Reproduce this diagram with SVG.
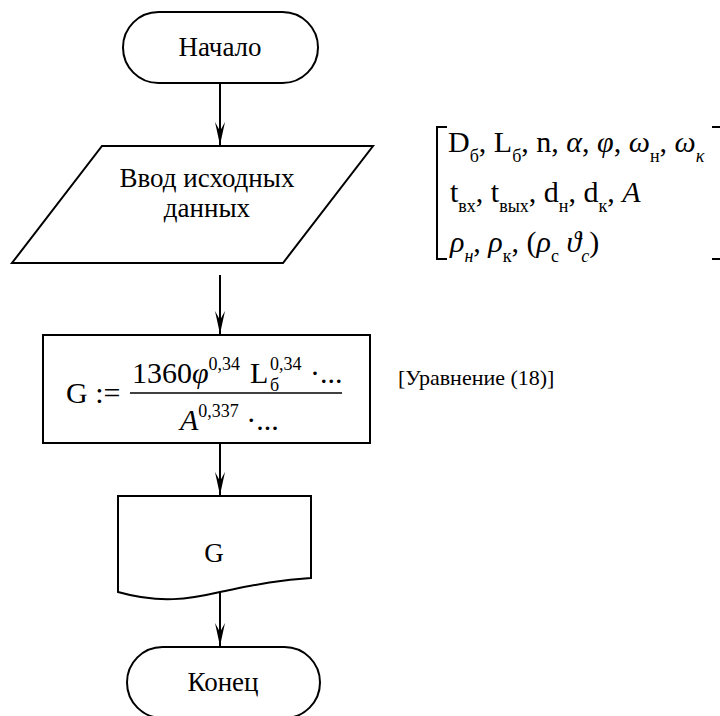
<svg xmlns="http://www.w3.org/2000/svg" width="720" height="716" viewBox="0 0 720 716">
<style>
  .shape { fill: #ffffff; stroke: #000000; stroke-width: 2; }
  .conn { stroke: #000000; stroke-width: 2; fill: none; }
  .s { font-size: 18px; }
  .i { font-style: italic; }
</style>
<defs>
  <marker id="arrow" markerUnits="userSpaceOnUse" markerWidth="24" markerHeight="12" viewBox="-23 -6 24 12" refX="0" refY="0" orient="auto">
    <path d="M0,0 L-23,-5 L-14,0 L-23,5 Z" fill="#000000"/>
  </marker>
</defs>
<rect width="720" height="716" fill="#ffffff"/>

<g id="start">
  <rect class="shape" x="123" y="12" width="195" height="71" rx="35.5" ry="35.5"/>
  <text font-family="Liberation Serif" font-size="27" x="220" y="56" text-anchor="middle">Начало</text>
</g>

<g id="input">
  <polygon class="shape" points="102,146 373,146 283,263 12,263"/>
  <text font-family="Liberation Serif" font-size="27" x="207" y="187" text-anchor="middle">Ввод исходных</text>
  <text font-family="Liberation Serif" font-size="27" x="207" y="217" text-anchor="middle">данных</text>
</g>

<g id="input-data" font-family="Liberation Serif" font-size="30">
  <path class="conn" d="M447,127 H437 V259 H447"/>
  <path class="conn" d="M712,127 H722 M712,259 H722"/>
  <text x="448" y="152">D<tspan class="s" dy="10">б</tspan><tspan dy="-10">, L</tspan><tspan class="s" dy="10">б</tspan><tspan dy="-10">, n, </tspan><tspan class="i">α</tspan>, <tspan class="i">φ</tspan>, <tspan class="i">ω</tspan><tspan class="s" dy="10">н</tspan><tspan dy="-10">, </tspan><tspan class="i">ω</tspan><tspan class="s i" dy="10">κ</tspan></text>
  <text x="450" y="202">t<tspan class="s" dy="10">вх</tspan><tspan dy="-10">, t</tspan><tspan class="s" dy="10">вых</tspan><tspan dy="-10">, d</tspan><tspan class="s" dy="10">н</tspan><tspan dy="-10">, d</tspan><tspan class="s" dy="10">к</tspan><tspan dy="-10">, </tspan><tspan class="i">A</tspan></text>
  <text x="450" y="252"><tspan class="i">ρ</tspan><tspan class="s i" dy="10">н</tspan><tspan dy="-10">, </tspan><tspan class="i">ρ</tspan><tspan class="s" dy="10">к</tspan><tspan dy="-10">, (</tspan><tspan class="i">ρ</tspan><tspan class="s" dy="10">с</tspan><tspan dy="-10"> </tspan><tspan class="i">ϑ</tspan><tspan class="s i" dy="10">c</tspan><tspan dy="-10">)</tspan></text>
</g>

<g id="calc" font-family="Liberation Serif" font-size="30">
  <rect class="shape" x="43" y="335" width="327" height="108"/>
  <text x="66" y="403">G :=</text>
  <line x1="130" y1="393" x2="342" y2="393" stroke="#000" stroke-width="1.5"/>
  <text x="132" y="383">1360<tspan class="i">φ</tspan><tspan class="s" dy="-13">0,34</tspan></text>
  <text x="250" y="383">L</text>
  <text class="s" x="270" y="391">б</text>
  <text class="s" x="270" y="370">0,34</text>
  <text x="310" y="383">·...</text>
  <text x="180" y="430"><tspan class="i">A</tspan><tspan class="s" dy="-13">0,337</tspan><tspan dy="13"> ·...</tspan></text>
</g>

<g id="eq-label">
  <text font-family="Liberation Serif" font-size="22" x="398" y="385">[Уравнение (18)]</text>
</g>

<g id="output">
  <path class="shape" d="M118,496 H311 V578 C275,580 250,586 220,592 C190,599 160,604 118,592 Z"/>
  <text font-family="Liberation Serif" font-size="27" x="214" y="562" text-anchor="middle">G</text>
</g>

<g id="end">
  <rect class="shape" x="127" y="647" width="193" height="71" rx="35.5" ry="35.5"/>
  <text font-family="Liberation Serif" font-size="27" x="223" y="691" text-anchor="middle">Конец</text>
</g>

<g id="connectors">
  <line class="conn" x1="220" y1="83" x2="220" y2="145" marker-end="url(#arrow)"/>
  <line class="conn" x1="220" y1="275" x2="220" y2="334" marker-end="url(#arrow)"/>
  <line class="conn" x1="220" y1="443" x2="220" y2="495" marker-end="url(#arrow)"/>
  <line class="conn" x1="220" y1="592" x2="220" y2="646" marker-end="url(#arrow)"/>
</g>
</svg>
